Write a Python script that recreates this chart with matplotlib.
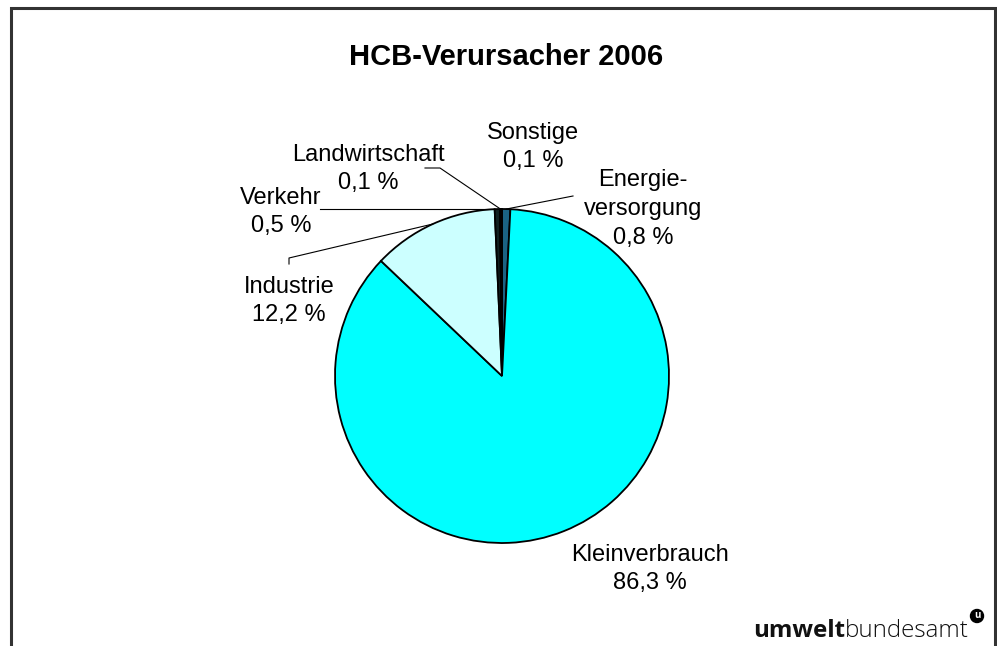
import numpy as np
import matplotlib
matplotlib.use("Agg")
import matplotlib.pyplot as plt
from matplotlib.patches import Circle

title = "HCB-Verursacher 2006"
categories = ["Energie-\nversorgung", "Kleinverbrauch", "Industrie", "Verkehr", "Landwirtschaft", "Sonstige"]
values = [0.8, 86.3, 12.2, 0.5, 0.1, 0.1]
value_labels = ["0,8 %", "86,3 %", "12,2 %", "0,5 %", "0,1 %", "0,1 %"]
colors = ["#1B6384", "#00FFFF", "#CCFFFF", "#102020", "#2A7F7F", "#1B6384"]

W, H = 997, 646
fig = plt.figure(figsize=(W / 100, H / 100), dpi=100)
ax = fig.add_axes([0, 0, 1, 1])

FONT = "Liberation Sans"

def py(y):
    return H - y

center = (502, py(376))
radius = 167
wedges, _ = ax.pie(values, colors=colors, startangle=90, counterclock=False,
                   center=center, radius=radius, frame=True,
                   wedgeprops=dict(edgecolor="black", linewidth=1.3))
ax.set_xlim(0, W)
ax.set_ylim(0, H)
ax.axis("off")

# frame
ax.plot([11, 11, 995, 995], [py(660), py(8), py(8), py(660)], color="#333333", lw=2.2,
        solid_joinstyle="miter", clip_on=False)

ax.text(506, py(57), title, ha="center", va="center", fontsize=21,
        fontweight="bold", family=FONT)

def edge_point(i, frac_r=1.0):
    w = wedges[i]
    ang = np.deg2rad((w.theta1 + w.theta2) / 2)
    return center[0] + radius * frac_r * np.cos(ang), center[1] + radius * frac_r * np.sin(ang)

# label positions (text centers, pixel coordinates)
label_pos = {
    0: (643, 209),
    1: (650, 569),
    2: (289, 301),
    3: (281, 212),
    4: (368, 169),
    5: (533, 147),
}
for i, (x, y) in label_pos.items():
    ax.text(x, py(y), categories[i] + "\n" + value_labels[i], ha="center", va="center",
            fontsize=17, family=FONT, linespacing=1.4)

lc = dict(color="black", lw=0.8)
# Energie leader
ex, ey = edge_point(0)
ax.plot([573, ex], [py(196), ey], **lc)
# Industrie leader
ix, iy = edge_point(2)
ax.plot([289, 289, ix], [py(264), py(258), iy], **lc)
# Verkehr leader
vx, vy = edge_point(3)
ax.plot([320, vx], [vy, vy], **lc)
# Landwirtschaft leader
lx, ly = edge_point(4)
ax.plot([425, 440, lx], [py(168), py(168), ly], **lc)

# logo
t1 = ax.text(753, py(637), "umwelt", ha="left", va="baseline", fontsize=17.4,
             fontweight="bold", family="Open Sans", color="#111111")
fig.canvas.draw()
bb = t1.get_window_extent()
ax.text(bb.x1, py(637), "bundesamt", ha="left", va="baseline", fontsize=17.4,
        fontweight="light", family="Open Sans", color="#111111")
ax.add_patch(Circle((977, py(616)), 6.5, color="black"))
ax.text(977, py(616), "u", ha="center", va="center", fontsize=7, color="white",
        fontweight="bold", family="Open Sans")

fig.savefig("out.png", dpi=100)
